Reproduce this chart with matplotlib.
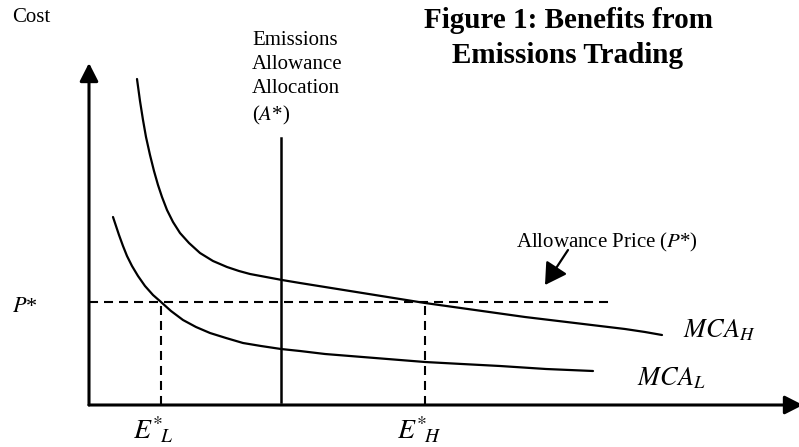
import matplotlib
matplotlib.use('Agg')
import matplotlib.pyplot as plt

plt.rcParams['font.family'] = ['Liberation Serif', 'DejaVu Serif']
plt.rcParams['mathtext.fontset'] = 'stix'
plt.rcParams['lines.scale_dashes'] = False

# curves (x = emissions, y = cost, origin at the axes corner)
mca_h_x = [48, 51, 54, 57, 61, 65, 69, 73, 78, 84, 91, 100, 111, 124, 138, 150, 161, 177,
           193, 211, 236, 261, 286, 311, 336, 361, 386, 411, 436, 461, 486, 511, 536, 556, 573]
mca_h_y = [326, 304, 285, 268, 250, 234, 220, 208, 195, 183, 172, 162, 152, 144, 138, 134, 131, 128,
           125, 122, 118, 114, 110, 106, 102, 98.5, 95, 91.5, 88, 85, 82, 79, 76, 73, 70]
mca_l_x = [24, 27, 30, 34, 38, 43, 49, 56, 64, 72, 82, 94, 107, 121, 137, 154, 172, 192,
           211, 236, 261, 286, 311, 336, 373, 411, 457, 504]
mca_l_y = [188, 179, 170, 159, 149, 139, 129, 119, 110, 103, 94, 85, 78, 72, 67, 62, 59, 56,
           54, 51, 49, 47, 45, 43, 41, 39, 36, 34]
p_star = 103
e_low = 72
e_high = 336
a_star = 192
a_star_top = 267
p_line_end = 524

fig = plt.figure(figsize=(7.99, 4.47), dpi=100)
ax = fig.add_axes([0, 0, 1, 1])
ax.set_xlim(-89, 710)
ax.set_ylim(-42, 405)
ax.axis('off')

# axes with arrow heads
arrow = dict(arrowstyle='-|>,head_length=0.55,head_width=0.28', lw=2.2, color='black',
             mutation_scale=20, shrinkA=0, shrinkB=0)
ax.annotate('', xy=(0, 342), xytext=(0, 0), arrowprops=arrow, annotation_clip=False)
ax.annotate('', xy=(714, 0), xytext=(0, 0), arrowprops=arrow, annotation_clip=False)

ax.plot(mca_h_x, mca_h_y, color='black', lw=1.6, solid_capstyle='round', solid_joinstyle='round')
ax.plot(mca_l_x, mca_l_y, color='black', lw=1.6, solid_capstyle='round', solid_joinstyle='round')

ax.plot([a_star, a_star], [3, a_star_top], color='black', lw=1.8)

dash = dict(color='black', lw=1.5, dashes=(6.5, 4.3))
ax.plot([0, p_line_end], [p_star, p_star], **dash)
ax.plot([e_low, e_low], [0, p_star], **dash)
ax.plot([e_high, e_high], [0, p_star], **dash)

ax.annotate('', xy=(456, 120), xytext=(479, 155),
            arrowprops=dict(arrowstyle='-|>,head_length=0.65,head_width=0.38', lw=1.6,
                            color='black', mutation_scale=20, shrinkA=0, shrinkB=0))

ax.text(-77, 387, 'Cost', fontsize=15, va='center', ha='left')
ax.text(163, 326, 'Emissions\nAllowance\nAllocation\n($A$*)', fontsize=15,
        va='center', ha='left', linespacing=1.35)
ax.text(479, 367, 'Figure 1: Benefits from\nEmissions Trading', fontsize=21,
        fontweight='bold', va='center', ha='center', linespacing=1.4)
ax.text(518, 163, 'Allowance Price ($P$*)', fontsize=15, va='center', ha='center')
ax.text(-77, 98, '$P$*', fontsize=16, va='center', ha='left')
ax.text(44, -25, r'$E^{*}\!{}_{L}$', fontsize=20, va='center', ha='left')
ax.text(308, -25, r'$E^{*}\!{}_{H}$', fontsize=20, va='center', ha='left')
ax.text(594, 75, r'$MCA_{H}$', fontsize=19, va='center', ha='left')
ax.text(548, 27, r'$MCA_{L}$', fontsize=19, va='center', ha='left')

fig.savefig('out.png', dpi=100)
